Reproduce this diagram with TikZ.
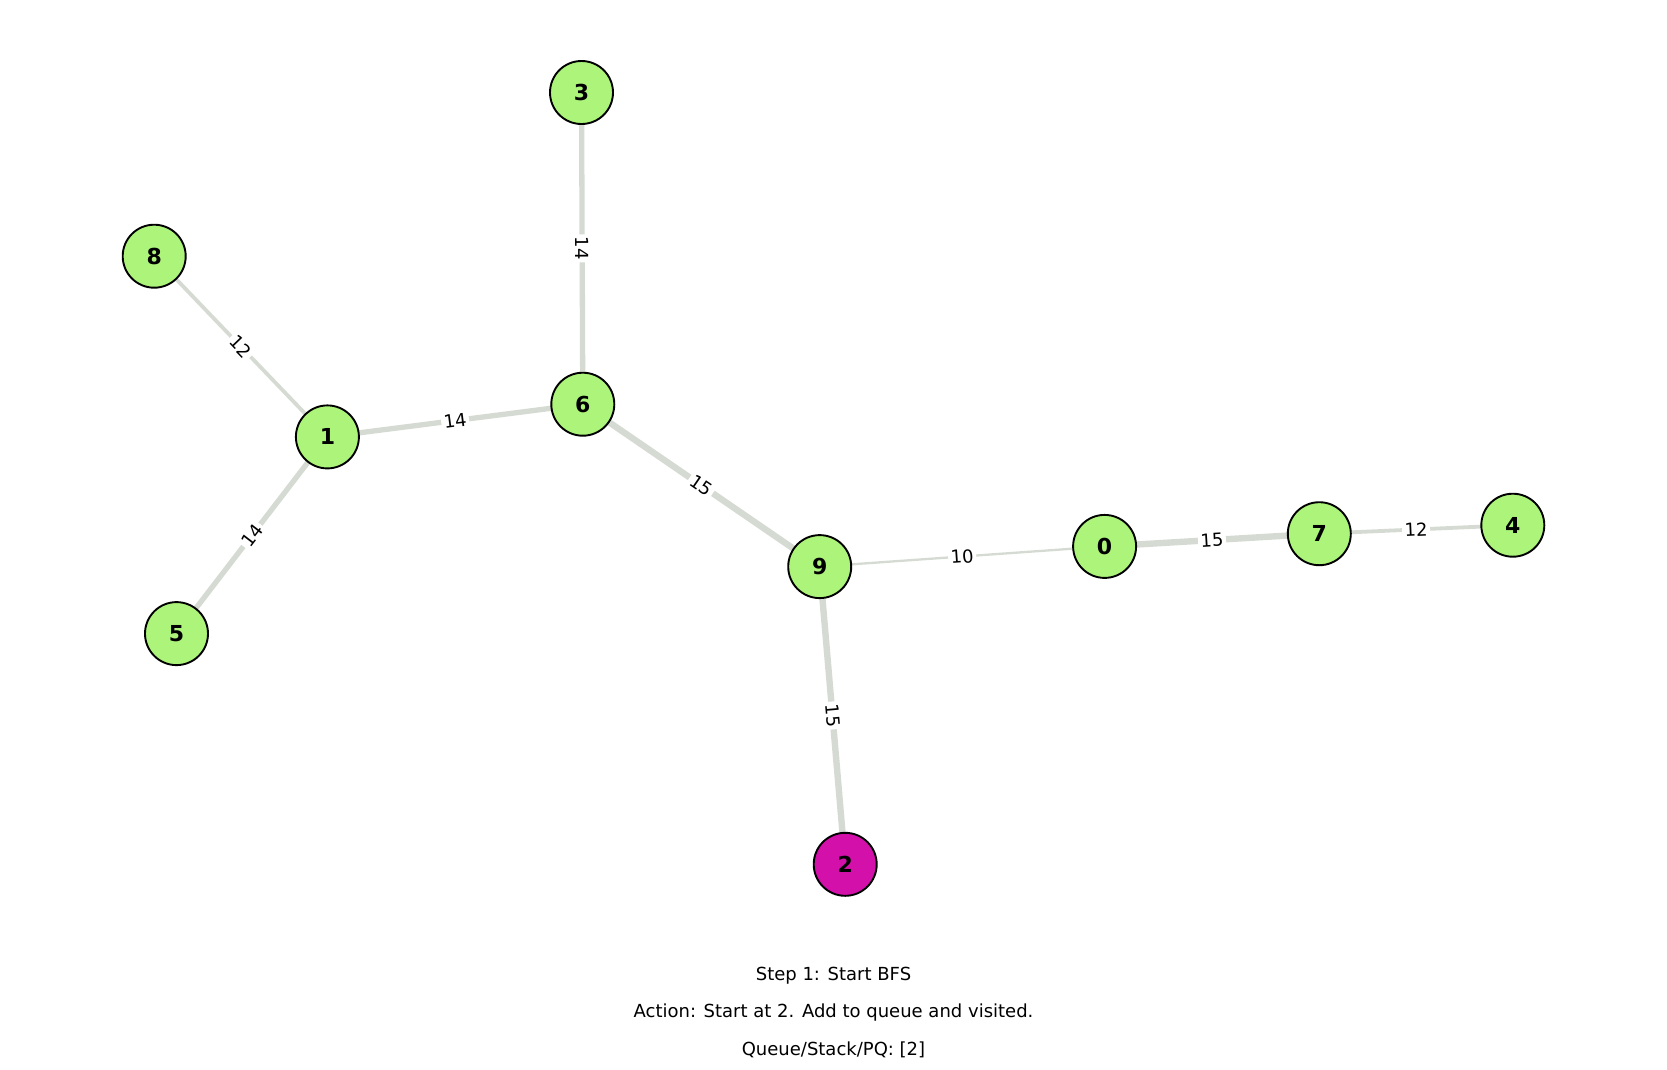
\documentclass[tikz,border=0pt]{standalone}
\usepackage{fontspec}
\setmainfont{DejaVu Sans}
\usetikzlibrary{backgrounds}
\definecolor{nodegreen}{RGB}{173,245,122}
\definecolor{nodemag}{RGB}{211,17,170}
\definecolor{edgegray}{RGB}{213,219,210}
\begin{document}
\begin{tikzpicture}[x=1pt,y=-1pt,
  vertex/.style={circle,draw=black,line width=1.9pt,minimum size=63pt,inner sep=0pt,
    fill=nodegreen,font=\fontsize{22}{22}\selectfont\bfseries},
  start/.style={vertex,fill=nodemag},
  edge/.style={draw=edgegray,line cap=butt},
  wten/.style={edge,line width=2.3pt},
  wtwelve/.style={edge,line width=3.8pt},
  wfourteen/.style={edge,line width=5.3pt},
  wfifteen/.style={edge,line width=6.4pt},
  elabel/.style={midway,sloped,fill=white,inner sep=2.5pt,text=black,
    font=\fontsize{18}{18}\selectfont},
  caption/.style={font=\fontsize{18}{18}\selectfont,text=black}]
\useasboundingbox (0,0) rectangle (1667,1069);

% vertices
\node[vertex] (n3) at (581.5, 92.5) {3};
\node[vertex] (n8) at (154.2, 256.2) {8};
\node[vertex] (n6) at (582.8, 404.2) {6};
\node[vertex] (n1) at (327.4, 436.9) {1};
\node[vertex] (n5) at (176.5, 633.6) {5};
\node[vertex] (n9) at (819.7, 566.6) {9};
\node[vertex] (n0) at (1104.6, 546.4) {0};
\node[vertex] (n7) at (1319.3, 533.7) {7};
\node[vertex] (n4) at (1512.8, 525.2) {4};
\node[start]  (n2) at (845.2, 864.3) {2};

% weighted edges, behind the vertices
\begin{scope}[on background layer]
  \draw[wtwelve]   (n8.center) -- node[elabel] {12} (n1.center);
  \draw[wfourteen] (n3.center) -- node[elabel] {14} (n6.center);
  \draw[wfourteen] (n1.center) -- node[elabel] {14} (n6.center);
  \draw[wfourteen] (n5.center) -- node[elabel] {14} (n1.center);
  \draw[wfifteen]  (n6.center) -- node[elabel] {15} (n9.center);
  \draw[wten]      (n9.center) -- node[elabel] {10} (n0.center);
  \draw[wfifteen]  (n0.center) -- node[elabel] {15} (n7.center);
  \draw[wtwelve]   (n7.center) -- node[elabel] {12} (n4.center);
  \draw[wfifteen]  (n9.center) -- node[elabel] {15} (n2.center);
\end{scope}

% step description
\node[caption] (step)   at (833.5, 976)  {Step 1: Start BFS};
\node[caption] (action) at (833.5, 1013) {Action: Start at 2. Add to queue and visited.};
\node[caption] (queue)  at (833.5, 1050) {Queue/Stack/PQ: [2]};
\end{tikzpicture}
\end{document}
